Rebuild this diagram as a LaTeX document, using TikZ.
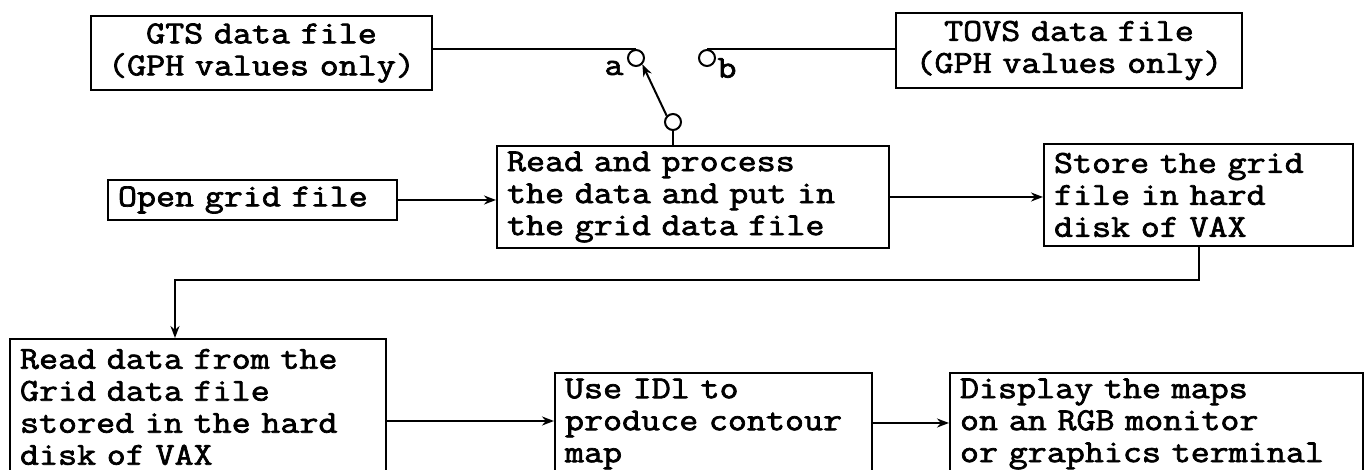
\documentclass[tikz,border=0pt]{standalone}
\usepackage{fontspec}
\setmonofont{Latin Modern Mono}[AutoFakeBold=2.2, FakeStretch=1.155]
\usetikzlibrary{arrows.meta,positioning}

\begin{document}
\begin{tikzpicture}[
  x=0.5pt, y=-0.5pt, >={Stealth[length=6pt,width=4.5pt]},
  font=\ttfamily\bfseries\fontsize{16}{16}\selectfont,
  box/.style={rectangle, draw, line width=1pt, align=left, inner xsep=5pt, inner ysep=0pt},
  srcbox/.style={box, align=center, inner xsep=3pt},
  term/.style={circle, draw, line width=1pt, minimum size=8pt, inner sep=0pt},
  flow/.style={->, line width=1pt},
  wire/.style={line width=1pt},
]
  \useasboundingbox (0,0) rectangle (1367,470);
  \clip (0,0) rectangle (1367,470);
  % source files and the switch
  \node[srcbox, text width=164.5pt, minimum height=37pt] (gts) at (261.5,53) {GTS data file\\(GPH values only)};
  \node[srcbox, text width=167pt, minimum height=37.5pt] (tovs) at (1069,50.5) {TOVS data file\\(GPH values only)};
  \node[term] (sa) at (636,58) {};
  \node[term] (sb) at (707,58) {};
  \node[term] (sc) at (673,122) {};
  \node (la) at (614,68) {a};
  \node (lb) at (727,68) {b};
  % processing chain
  \node[box, text width=134.5pt, minimum height=20pt] (open) at (252.5,200) {Open grid file};
  \node[box, text width=186pt, minimum height=51pt] (proc) at (693,197) {Read and process\\the data and put in\\the grid data file};
  \node[box, text width=144.5pt, minimum height=51pt] (store) at (1198.5,195) {Store the grid\\file in hard\\disk of VAX};
  \node[box, text width=178pt, minimum height=68pt] (rdata) at (198,407) {Read data from the\\Grid data file\\stored in the hard\\disk of VAX};
  \node[box, text width=148.5pt, minimum height=51pt] (use) at (713.5,424) {Use IDl to\\produce contour\\map};
  \node[box, text width=196.5pt, minimum height=51pt] (disp) at (1156.5,424) {Display the maps\\on an RGB monitor\\or graphics terminal};
  \coordinate (elbow) at (175,280);

  \draw[wire] (gts.east |- sa.north) -- (sa.north);
  \draw[wire] (sb.north) -- (sb.north -| tovs.west);
  \draw[flow] (sc.north west) -- (sa.south east);
  \draw[wire] (sc.south) -- (sc.south |- proc.north);
  \draw[flow] (open.east) -- (open.east -| proc.west);
  \draw[flow] (proc.east) -- (proc.east -| store.west);
  \draw[flow] (store.south) |- (elbow) -- (elbow |- rdata.north);
  \draw[flow] (rdata.east |- 0,421) -- (use.west |- 0,421);
  \draw[flow] (use.east |- 0,423) -- (disp.west |- 0,423);
\end{tikzpicture}
\end{document}
